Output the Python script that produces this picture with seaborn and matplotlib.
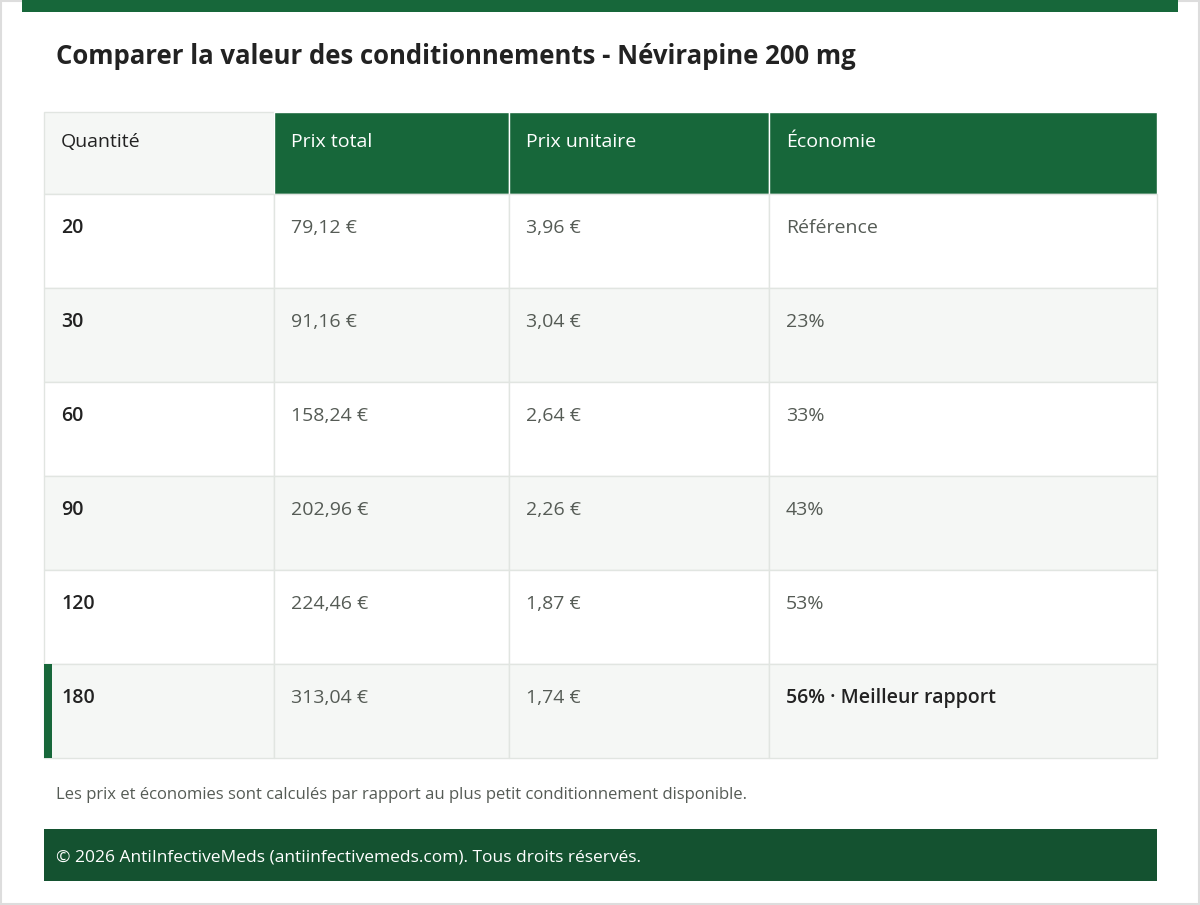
import matplotlib
matplotlib.use("Agg")
import matplotlib.pyplot as plt
import seaborn as sns
from matplotlib.patches import Rectangle

title = "Comparer la valeur des conditionnements - Névirapine 200 mg"
headers = ["Quantité", "Prix total", "Prix unitaire", "Économie"]
quantities = ["20", "30", "60", "90", "120", "180"]
total_prices = ["79,12 €", "91,16 €", "158,24 €", "202,96 €", "224,46 €", "313,04 €"]
unit_prices = ["3,96 €", "3,04 €", "2,64 €", "2,26 €", "1,87 €", "1,74 €"]
savings = ["Référence", "23%", "33%", "43%", "53%", "56% · Meilleur rapport"]
best_row = 5
footnote = "Les prix et économies sont calculés par rapport au plus petit conditionnement disponible."
footer = "© 2026 AntiInfectiveMeds (antiinfectivemeds.com). Tous droits réservés."

sns.set_theme(style="white")
plt.rcParams["font.family"] = ["Open Sans", "DejaVu Sans"]

GREEN = "#17673a"
DARK_GREEN = "#145230"
LIGHT = "#f5f7f5"
GRID = "#e1e5e1"
TEXT_DARK = "#222222"
TEXT_GRAY = "#555b55"

fig = plt.figure(figsize=(12, 9.05), dpi=100)
ax = fig.add_axes([0, 0, 1, 1])
ax.set_xlim(0, 1200)
ax.set_ylim(905, 0)
ax.axis("off")

ax.add_patch(Rectangle((1, 1), 1198, 903, facecolor="white", edgecolor="#dddddd", lw=1.5))
ax.add_patch(Rectangle((22, 0), 1156, 12, facecolor=GREEN, edgecolor="none"))
ax.text(56, 56, title, fontsize=18.5, fontweight="bold", color=TEXT_DARK, va="center")

col_x = [44, 274, 509, 769, 1157]
header_top, header_h, row_h = 112, 82, 94

# header
for i, h in enumerate(headers):
    bg = LIGHT if i == 0 else GREEN
    ax.add_patch(Rectangle((col_x[i], header_top), col_x[i + 1] - col_x[i], header_h,
                           facecolor=bg, edgecolor=GRID if i == 0 else "white", lw=1))
    ax.text(col_x[i] + 17, header_top + 30, h, fontsize=14, va="center",
            color=TEXT_DARK if i == 0 else "white", fontweight="medium")

# rows
columns = [quantities, total_prices, unit_prices, savings]
for r in range(len(quantities)):
    top = header_top + header_h + r * row_h
    bg = LIGHT if r % 2 == 1 else "white"
    for c, col in enumerate(columns):
        ax.add_patch(Rectangle((col_x[c], top), col_x[c + 1] - col_x[c], row_h,
                               facecolor=bg, edgecolor=GRID, lw=1))
        bold = c == 0 or (c == 3 and r == best_row)
        ax.text(col_x[c] + 17, top + 34, col[r], fontsize=14, va="center",
                color=TEXT_DARK if bold else TEXT_GRAY,
                fontweight="semibold" if bold else "normal")
    if r == best_row:
        ax.add_patch(Rectangle((44, top), 8, row_h, facecolor=GREEN, edgecolor="none"))

ax.text(56, 795, footnote, fontsize=12, color=TEXT_GRAY, va="center")
ax.add_patch(Rectangle((44, 829), 1113, 52, facecolor=DARK_GREEN, edgecolor="none"))
ax.text(56, 857, footer, fontsize=12.5, color="white", va="center")

fig.savefig("out.png", dpi=100)
plt.close(fig)
